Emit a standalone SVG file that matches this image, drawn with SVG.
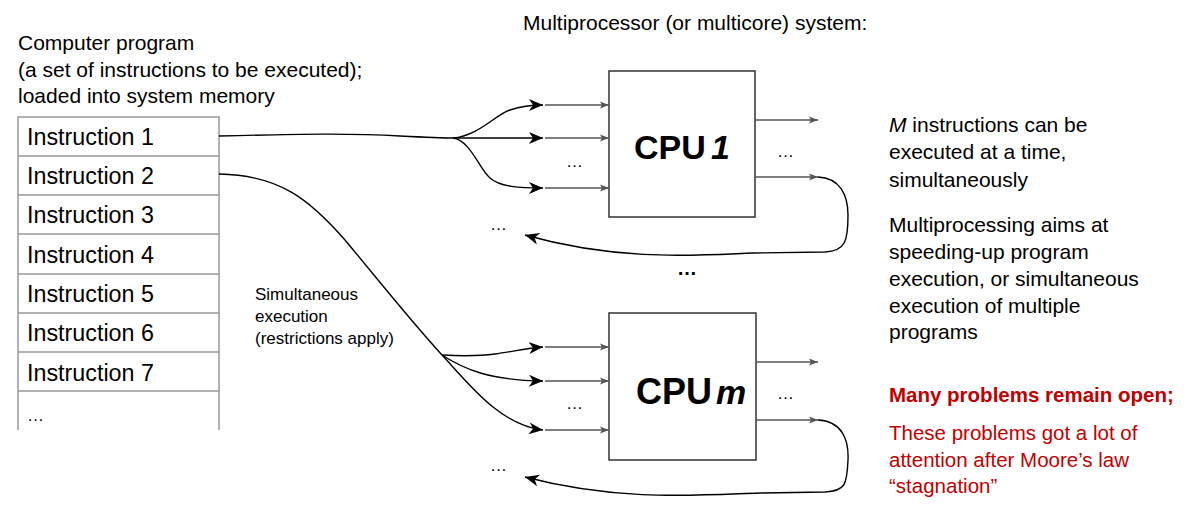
<svg xmlns="http://www.w3.org/2000/svg" width="1194" height="509" viewBox="0 0 1194 509">
<style>
  .t { font-family: "Liberation Sans", Arial, sans-serif; fill: #000; }
  .cap { font-size: 21px; }
  .ins { font-size: 23.3px; }
  .small { font-size: 17px; }
  .cpu { font-weight: bold; }
  .red { fill: #C00000; font-size: 20.5px; }
  .cell { fill: #fff; stroke: #999; stroke-width: 1.5; }
  .box { fill: #fff; stroke: #333; stroke-width: 1.5; }
  .curve { fill: none; stroke: #000; stroke-width: 1.4; }
  .short { fill: none; stroke: #555; stroke-width: 1.3; }
</style>
<defs>
  <marker id="big" markerUnits="userSpaceOnUse" markerWidth="16" markerHeight="14" refX="14" refY="7" orient="auto">
    <path d="M0,1 L14,7 L0,13 L4,7 z" fill="#000"/>
  </marker>
  <marker id="sm" markerUnits="userSpaceOnUse" markerWidth="10" markerHeight="8" refX="9" refY="4" orient="auto">
    <path d="M0,0.5 L9,4 L0,7.5 L2,4 z" fill="#555"/>
  </marker>
</defs>
<rect width="1194" height="509" fill="#fff"/>

<g id="caption-program">
  <text class="t cap" x="18" y="50">Computer program</text>
  <text class="t cap" x="18" y="77">(a set of instructions to be executed);</text>
  <text class="t cap" x="18" y="103">loaded into system memory</text>
</g>

<g id="memory">
  <path class="cell" d="M18,430 L18,117 L219,117 L219,430" />
  <g stroke="#999" stroke-width="1.5">
    <line x1="18" y1="156" x2="219" y2="156"/>
    <line x1="18" y1="195" x2="219" y2="195"/>
    <line x1="18" y1="234" x2="219" y2="234"/>
    <line x1="18" y1="274" x2="219" y2="274"/>
    <line x1="18" y1="313" x2="219" y2="313"/>
    <line x1="18" y1="352" x2="219" y2="352"/>
    <line x1="18" y1="391" x2="219" y2="391"/>
  </g>
  <text class="t ins" x="27" y="145">Instruction 1</text>
  <text class="t ins" x="27" y="184">Instruction 2</text>
  <text class="t ins" x="27" y="223">Instruction 3</text>
  <text class="t ins" x="27" y="263">Instruction 4</text>
  <text class="t ins" x="27" y="302">Instruction 5</text>
  <text class="t ins" x="27" y="341">Instruction 6</text>
  <text class="t ins" x="27" y="381">Instruction 7</text>
  <text class="t small" x="27" y="421">…</text>
</g>

<g id="title">
  <text class="t cap" x="523" y="30">Multiprocessor (or multicore) system:</text>
</g>

<g id="cpu1">
  <rect class="box" x="609" y="71" width="146" height="146"/>
  <text class="t cpu" x="634" y="159" font-size="34">CPU</text>
  <text class="t cpu" x="711" y="159" font-size="34" font-style="italic">1</text>
</g>

<g id="cpum">
  <rect class="box" x="609" y="313" width="147" height="147"/>
  <text class="t cpu" x="636" y="404" font-size="36">CPU</text>
  <text class="t cpu" x="716" y="404" font-size="34" font-style="italic">m</text>
</g>

<g id="label-simultaneous">
  <text class="t small" x="255" y="300">Simultaneous</text>
  <text class="t small" x="255" y="322">execution</text>
  <text class="t small" x="255" y="344">(restrictions apply)</text>
</g>

<g id="dots">
  <text class="t small" x="566" y="167">…</text>
  <text class="t small" x="777" y="157">…</text>
  <text class="t small" x="490" y="230">…</text>
  <text class="t" x="677" y="275" font-size="20" font-weight="bold">…</text>
  <text class="t small" x="566" y="409">…</text>
  <text class="t small" x="777" y="399">…</text>
  <text class="t small" x="490" y="471">…</text>
</g>

<g id="connectors">
  <!-- Instruction 1 to CPU 1 -->
  <path class="curve" d="M219,136 C300,134 350,133 400,136 C420,137 440,138 453,138"/>
  <path class="curve" d="M453,138 C478,136 495,115 510,110 C522,106 532,105 543,105" marker-end="url(#big)"/>
  <path class="curve" d="M453,138 L543,138" marker-end="url(#big)"/>
  <path class="curve" d="M453,138 C470,140 480,170 490,178 C500,187 520,188 543,188" marker-end="url(#big)"/>
  <path class="short" d="M545,105 L609,105" marker-end="url(#sm)"/>
  <path class="short" d="M545,138 L609,138" marker-end="url(#sm)"/>
  <path class="short" d="M545,188 L609,188" marker-end="url(#sm)"/>
  <path class="short" d="M755,120 L818,120" marker-end="url(#sm)"/>
  <path class="short" d="M755,177 L818,177" marker-end="url(#sm)"/>
  <path class="curve" d="M818,177 C840,178 848,195 848,215 C848,240 846,251 825,252 L753,253 C700,255 620,262 525,235" marker-end="url(#big)"/>

  <!-- Instruction 2 to CPU m -->
  <path class="curve" d="M219,174 C280,175 310,200 345,240 C380,282 410,320 442,355"/>
  <path class="curve" d="M442,355 C460,356 480,356 495,354 C515,351 530,348 543,347" marker-end="url(#big)"/>
  <path class="curve" d="M442,355 C465,370 490,380 543,381" marker-end="url(#big)"/>
  <path class="curve" d="M442,355 C470,385 500,425 543,430" marker-end="url(#big)"/>
  <path class="short" d="M545,347 L609,347" marker-end="url(#sm)"/>
  <path class="short" d="M545,381 L609,381" marker-end="url(#sm)"/>
  <path class="short" d="M545,430 L609,430" marker-end="url(#sm)"/>
  <path class="short" d="M756,362 L818,362" marker-end="url(#sm)"/>
  <path class="short" d="M756,420 L818,420" marker-end="url(#sm)"/>
  <path class="curve" d="M818,420 C842,421 849,440 848,460 C847,485 845,491 825,492 L760,493 C700,495 620,502 525,477" marker-end="url(#big)"/>
</g>

<g id="notes">
  <text class="t cap" x="889" y="132"><tspan font-style="italic">M</tspan> instructions can be</text>
  <text class="t cap" x="889" y="159">executed at a time,</text>
  <text class="t cap" x="889" y="187">simultaneously</text>
  <text class="t cap" x="889" y="232">Multiprocessing aims at</text>
  <text class="t cap" x="889" y="259">speeding-up program</text>
  <text class="t cap" x="889" y="286">execution, or simultaneous</text>
  <text class="t cap" x="889" y="313">execution of multiple</text>
  <text class="t cap" x="889" y="339">programs</text>
  <text class="t red" x="889" y="402" font-weight="bold">Many problems remain open;</text>
  <text class="t red" x="889" y="440">These problems got a lot of</text>
  <text class="t red" x="889" y="467">attention after Moore’s law</text>
  <text class="t red" x="889" y="493">“stagnation”</text>
</g>
</svg>
